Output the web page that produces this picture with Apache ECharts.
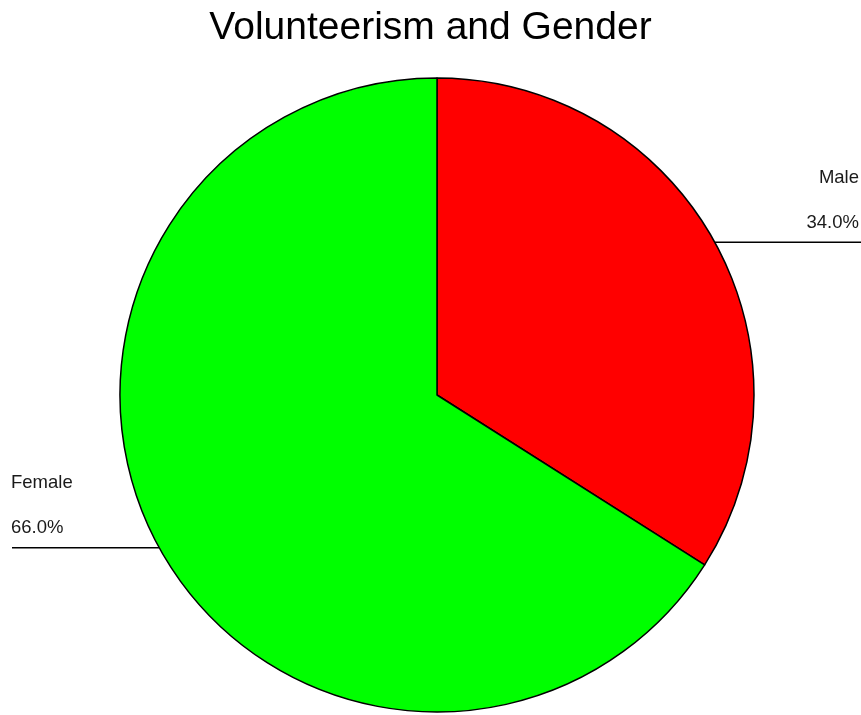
<!DOCTYPE html>
<html>
<head>
<meta charset="utf-8">
<script src="https://cdn.jsdelivr.net/npm/echarts@6/dist/echarts.min.js"></script>
<style>
html,body{margin:0;padding:0;background:#fff;}
#chart{width:861px;height:715px;}
</style>
</head>
<body>
<div id="chart"></div>
<script>
const titleText = 'Volunteerism and Gender';
const categories = ['Male', 'Female'];
const values = [34.0, 66.0];
const colors = ['#ff0000', '#00ff00'];

const chart = echarts.init(document.getElementById('chart'), null, {renderer: 'canvas'});
const W = 861;
const CX = 437;

chart.setOption({
  backgroundColor: '#ffffff',
  animation: false,
  title: {
    text: titleText,
    left: 'center',
    top: 4,
    textStyle: {fontFamily: 'Liberation Sans, Arial, sans-serif', fontSize: 39, fontWeight: 'normal', color: '#000'}
  },
  series: [{
    type: 'pie',
    center: [437, 395],
    radius: [0, 317],
    startAngle: 90,
    clockwise: true,
    avoidLabelOverlap: false,
    data: categories.map((c, i) => ({name: c, value: values[i], itemStyle: {color: colors[i]}})),
    itemStyle: {borderColor: '#000', borderWidth: 1.5},
    emphasis: {disabled: true},
    label: {
      show: true,
      position: 'outside',
      formatter: p => '{a|' + p.name + '}\n{a|' + p.percent.toFixed(1) + '%}',
      rich: {a: {fontFamily: 'Liberation Sans, Arial, sans-serif', fontSize: 18.5, color: '#1a1a1a', lineHeight: 45}}
    },
    labelLine: {show: true, length: 0, length2: 0, lineStyle: {color: '#000', width: 1.5}},
    labelLayout: function (params) {
      const pts = params.labelLinePoints;
      const x0 = pts[0][0], y0 = pts[0][1];
      const right = x0 > CX;
      return {
        x: right ? W - 2 : 11,
        y: y0 - 42,
        align: right ? 'right' : 'left',
        verticalAlign: 'middle',
        labelLinePoints: [[x0, y0], [x0, y0], [right ? W : 12, y0]]
      };
    }
  }]
});
</script>
</body>
</html>
